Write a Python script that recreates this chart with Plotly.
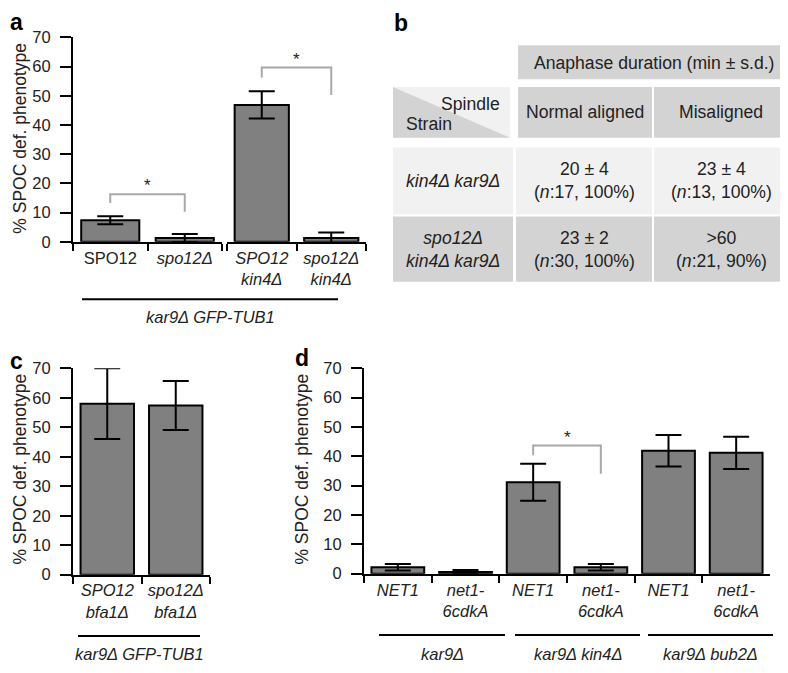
import plotly.graph_objects as go

W, H = 788, 673
# the page body adds an 8px margin, so reference pixel positions are shifted by 8
OFF = 8


def px(x):
    return (x - OFF) / W


def py(y):
    return 1 - (y - OFF) / H


# ---------------- data ----------------
y_ticks = [0, 10, 20, 30, 40, 50, 60, 70]

a_left_cats = ["SPO12", "<i>spo12Δ</i>"]
a_left_vals = [7.4, 1.3]
a_left_err = [1.4, 1.4]
a_right_cats = ["<i>SPO12<br>kin4Δ</i>", "<i>spo12Δ<br>kin4Δ</i>"]
a_right_vals = [46.9, 1.3]
a_right_err = [4.7, 1.9]
a_brk1_y = [13.3, 16.3, 16.3, 10.3]
a_brk2_y = [56.3, 59.7, 59.7, 50.3]
a_group = "<i>kar9Δ GFP-TUB1</i>"

c_cats = ["<i>SPO12<br>bfa1Δ</i>", "<i>spo12Δ<br>bfa1Δ</i>"]
c_vals = [58.0, 57.4]
c_err = [12.0, 8.3]
c_group = "<i>kar9Δ GFP-TUB1</i>"

d_labels = ["<i>NET1</i>", "<i>net1-<br>6cdkA</i>",
            "<i>NET1</i>", "<i>net1-<br>6cdkA</i>",
            "<i>NET1</i>", "<i>net1-<br>6cdkA</i>"]
d_vals = [2.2, 0.6, 31.2, 2.2, 41.9, 41.2]
d_err = [1.1, 0.7, 6.3, 1.1, 5.4, 5.5]
d_groups = ["<i>kar9Δ</i>", "<i>kar9Δ kin4Δ</i>", "<i>kar9Δ bub2Δ</i>"]
d_brk_y = [40.4, 43.7, 43.7, 34.1]

tb_header = "Anaphase duration (min ± s.d.)"
tb_cols = ["Normal aligned", "Misaligned"]
tb_corner = ["Spindle", "Strain"]
tb_rows = ["<i>kin4Δ kar9Δ</i>", "<i>spo12Δ<br>kin4Δ kar9Δ</i>"]
tb_means = [["20 ± 4", "23 ± 4"], ["23 ± 2", ">60"]]
tb_n = [[17, 13], [30, 21]]
tb_pct = [[100, 100], [100, 90]]

# ---------------- style ----------------
FONT = "Liberation Sans, Arial, sans-serif"
TXT = "#222222"
BAR = "#808080"
BRK = "#a8a8a8"
FS = 16.5
TFS = 17.6

# unique category keys for panel d (labels repeat)
d_cats = [lab + "\u200b" * i for i, lab in enumerate(d_labels)]

fig = go.Figure()


def bars(cats, vals, err, xa, ya):
    fig.add_trace(go.Bar(
        x=cats, y=vals, xaxis=xa, yaxis=ya, width=0.78,
        marker=dict(color=BAR, line=dict(color="black", width=2)),
        error_y=dict(type="data", array=err, color="black", thickness=2, width=13),
        showlegend=False, hoverinfo="skip"))


def bracket(c0, c1, ys, xa, ya):
    fig.add_trace(go.Scatter(
        x=[c0, c0, c1, c1], y=ys, xaxis=xa, yaxis=ya, mode="lines",
        line=dict(color=BRK, width=2), showlegend=False, hoverinfo="skip"))


bars(a_left_cats, a_left_vals, a_left_err, "x", "y")
bars(a_right_cats, a_right_vals, a_right_err, "x2", "y2")
bars(c_cats, c_vals, c_err, "x3", "y3")
bars(d_cats, d_vals, d_err, "x4", "y4")
bracket(a_left_cats[0], a_left_cats[1], a_brk1_y, "x", "y")
bracket(a_right_cats[0], a_right_cats[1], a_brk2_y, "x2", "y2")
bracket(d_cats[2], d_cats[3], d_brk_y, "x4", "y4")

yax = dict(range=[0, 70], tickvals=y_ticks, ticks="outside", ticklen=11, tickwidth=2,
           tickcolor="black", showline=True, linewidth=2, linecolor="black",
           showgrid=False, zeroline=False, tickfont=dict(size=FS, color=TXT),
           ticklabelstandoff=6, fixedrange=True)


def xax(n, x0, x1, anchor):
    return dict(type="category", domain=[px(x0), px(x1)], range=[-0.5, n - 0.5],
                tickson="boundaries", ticks="outside", ticklen=7, tickwidth=2,
                tickcolor="black", showline=True, linewidth=2, linecolor="black",
                showgrid=False, zeroline=False, anchor=anchor,
                tickfont=dict(size=FS, color=TXT), fixedrange=True)


fig.update_layout(
    width=W, height=H, margin=dict(l=0, r=0, t=0, b=0),
    paper_bgcolor="white", plot_bgcolor="white",
    font=dict(family=FONT, color=TXT, size=FS),
    bargap=0.2,
    xaxis=xax(2, 73, 222, "y"),
    xaxis2=xax(2, 227, 366, "y2"),
    xaxis3=xax(2, 73, 210, "y3"),
    xaxis4=xax(6, 364, 770, "y4"),
    yaxis=dict(yax, domain=[py(239), py(29)], anchor="x"),
    yaxis2=dict(yax, domain=[py(239), py(29)], anchor="x2", visible=False),
    yaxis3=dict(yax, domain=[py(581), py(369)], anchor="x3"),
    yaxis4=dict(yax, domain=[py(580), py(369)], anchor="x4"),
)

ann = []
shapes = []

# panel letters
for letter, (lx, ly, anc) in zip("abcd", [(8, 13, "left"), (401, 14, "center"),
                                          (8, 361, "left"), (302, 358, "center")]):
    ann.append(dict(text="<b>%s</b>" % letter, x=px(lx), y=py(ly), xref="paper", yref="paper",
                    showarrow=False, font=dict(size=23, color="black"),
                    xanchor=anc, yanchor="middle"))

# y titles
for tx, ty in [(20, 133), (20, 473), (302, 473)]:
    ann.append(dict(text="% SPOC def. phenotype", x=px(tx), y=py(ty), xref="paper", yref="paper",
                    textangle=-90, showarrow=False, font=dict(size=17.5, color=TXT),
                    xanchor="center", yanchor="middle"))

# stars
for xr, yr, xv, yv in [("x", "y", 0.5, a_brk1_y[1]), ("x2", "y2", 0.5, a_brk2_y[1]),
                       ("x4", "y4", 2.5, d_brk_y[1])]:
    ann.append(dict(text="*", x=xv, y=yv, xref=xr, yref=yr, showarrow=False,
                    font=dict(size=17, color=TXT), xanchor="center", yanchor="bottom", yshift=-3))

# group lines & labels
groups = [(a_group, 82, 338, 298, 316), (c_group, 78, 200, 644, 662),
          (d_groups[0], 379, 505, 643, 663), (d_groups[1], 515, 640, 643, 663),
          (d_groups[2], 648, 773, 643, 663)]
for lab, gx0, gx1, gy, ty in groups:
    shapes.append(dict(type="line", xref="paper", yref="paper", x0=px(gx0), x1=px(gx1),
                       y0=py(gy), y1=py(gy), line=dict(color="black", width=2)))
    ann.append(dict(text=lab, x=px((gx0 + gx1) / 2), y=py(ty), xref="paper", yref="paper",
                    showarrow=False, font=dict(size=FS, color=TXT),
                    xanchor="center", yanchor="middle"))

# ---------------- table (panel b) ----------------
GRAY = "#d3d3d3"
LIGHT = "#f1f1f1"


def rect(x0, x1, y0, y1, color):
    shapes.append(dict(type="rect", xref="paper", yref="paper", x0=px(x0), x1=px(x1),
                       y0=py(y1), y1=py(y0), fillcolor=color, line=dict(width=0), layer="below"))


def text(t, x, y, anchor="center", size=TFS):
    ann.append(dict(text=t, x=px(x), y=py(y), xref="paper", yref="paper", showarrow=False,
                    font=dict(size=size, color=TXT), xanchor=anchor, yanchor="middle"))


col_x = [(516, 652), (654, 788)]
row_y = [(142, 211), (213, 280)]
row_colors = [LIGHT, GRAY]

rect(518, 788, 37, 72, GRAY)
text(tb_header, 654, 55)

# corner cell with diagonal
rect(393, 510, 80, 132, LIGHT)
shapes.append(dict(type="path", xref="paper", yref="paper",
                   path="M %f,%f L %f,%f L %f,%f Z" % (px(393), py(80), px(393), py(132), px(510), py(132)),
                   fillcolor=GRAY, line=dict(width=0), layer="below"))
text(tb_corner[0], 502, 97, "right")
text(tb_corner[1], 404, 118, "left")

for j, (cx0, cx1) in enumerate(col_x):
    rect(cx0 + 2 if j == 0 else cx0, cx1, 80, 132, GRAY)
    text(tb_cols[j], (cx0 + cx1) / 2 + (1 if j == 0 else 0), 106)

for i, (ry0, ry1) in enumerate(row_y):
    rect(393, 513, ry0, ry1, row_colors[i])
    text(tb_rows[i], 453, (ry0 + ry1) / 2)
    for j, (cx0, cx1) in enumerate(col_x):
        rect(cx0, cx1, ry0, ry1, row_colors[i])
        cell = "%s<br>(<i>n</i>:%d, %d%%)" % (tb_means[i][j], tb_n[i][j], tb_pct[i][j])
        text(cell, (cx0 + cx1) / 2, (ry0 + ry1) / 2)

fig.update_layout(annotations=ann, shapes=shapes)
fig.write_html("out.html")
